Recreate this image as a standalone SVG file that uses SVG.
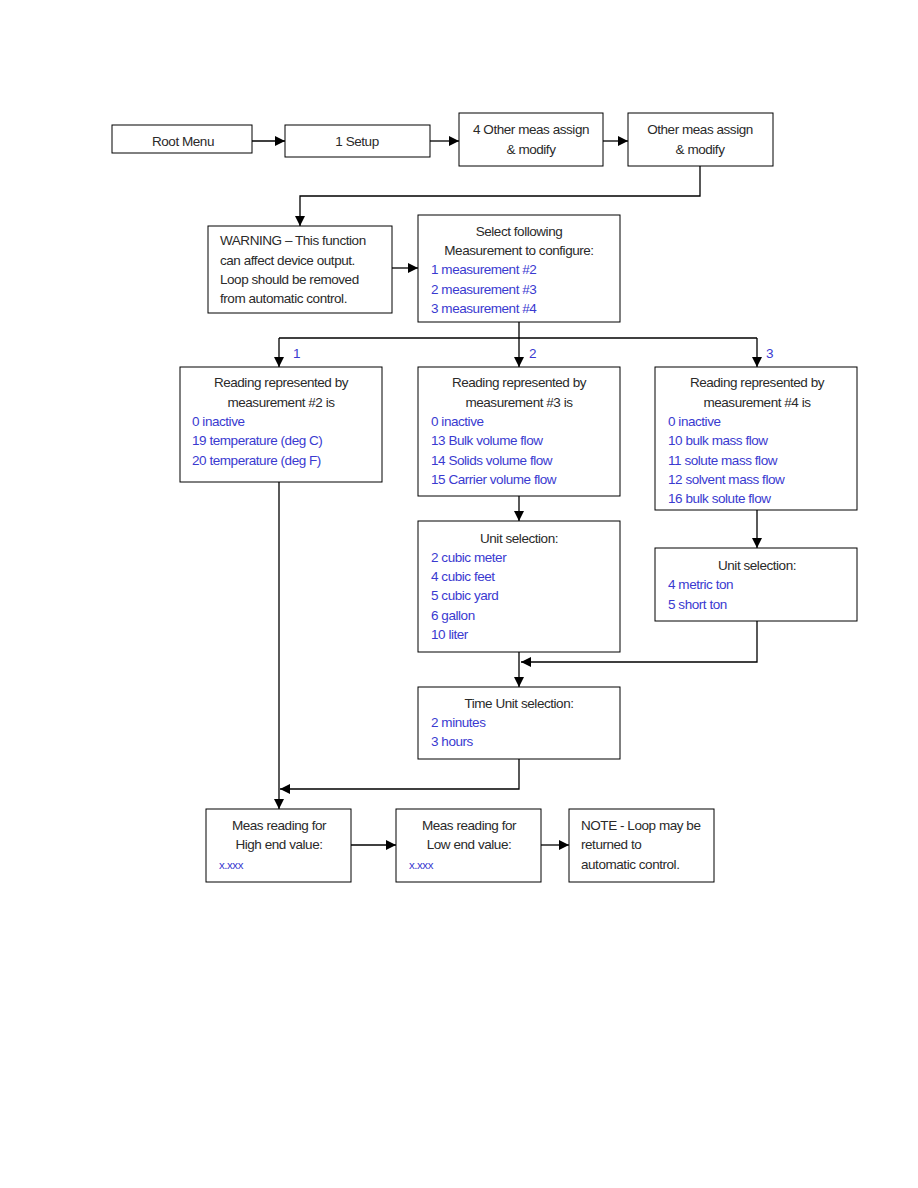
<svg xmlns="http://www.w3.org/2000/svg" width="918" height="1188" viewBox="0 0 918 1188">
<defs>
<marker id="ah" viewBox="0 0 10 10" refX="10" refY="5" markerWidth="10" markerHeight="10" markerUnits="userSpaceOnUse" orient="auto">
<path d="M0,0 L10,5 L0,10 z" fill="#000"/>
</marker>
<style>
rect{fill:#fff;stroke:#000;stroke-width:1}
text{font-family:"Liberation Sans",Arial,sans-serif;font-size:13.5px;letter-spacing:-0.45px;fill:#2a2a2a}
.c{text-anchor:middle}
.b{fill:#3a3ad0}
.s{font-size:11.5px}
#connectors path{fill:none;stroke:#000;stroke-width:1.3}
</style>
</defs>
<rect width="918" height="1188" style="fill:#fff;stroke:none"/>
<g id="connectors">
<path d="M252,141 H285" marker-end="url(#ah)"/>
<path d="M430,141 H459" marker-end="url(#ah)"/>
<path d="M603,141 H628" marker-end="url(#ah)"/>
<path d="M700,166 V196 H300 V226" marker-end="url(#ah)"/>
<path d="M392,268 H418" marker-end="url(#ah)"/>
<path d="M519,322 V367" marker-end="url(#ah)"/>
<path d="M279,338 H757"/>
<path d="M279,338 V367" marker-end="url(#ah)"/>
<path d="M757,338 V367" marker-end="url(#ah)"/>
<path d="M519,496 V521" marker-end="url(#ah)"/>
<path d="M757,510 V548" marker-end="url(#ah)"/>
<path d="M519,652 V687" marker-end="url(#ah)"/>
<path d="M757,621 V662 H521" marker-end="url(#ah)"/>
<path d="M519,759 V789 H280" marker-end="url(#ah)"/>
<path d="M279,482 V809" marker-end="url(#ah)"/>
<path d="M351,845 H396" marker-end="url(#ah)"/>
<path d="M541,845 H569" marker-end="url(#ah)"/>
<text x="293" y="358" class="b">1</text>
<text x="529" y="358" class="b">2</text>
<text x="766" y="358" class="b">3</text>
</g>
<g id="root"><rect x="112" y="125" width="140" height="28"/><text x="183" y="146" class="c">Root Menu</text></g>
<g id="setup"><rect x="285" y="125" width="145" height="32"/><text x="357" y="146" class="c">1 Setup</text></g>
<g id="other4"><rect x="459" y="113" width="144" height="53"/><text x="531" y="134" class="c">4 Other meas assign</text><text x="531" y="154" class="c">&amp; modify</text></g>
<g id="other"><rect x="628" y="113" width="145" height="53"/><text x="700" y="134" class="c">Other meas assign</text><text x="700" y="154" class="c">&amp; modify</text></g>
<g id="warning"><rect x="208" y="226" width="184" height="87"/>
<text x="220" y="245">WARNING – This function</text>
<text x="220" y="265">can affect device output.</text>
<text x="220" y="284">Loop should be removed</text>
<text x="220" y="303">from automatic control.</text></g>
<g id="select"><rect x="418" y="215" width="202" height="107"/>
<text x="519" y="236" class="c">Select following</text>
<text x="519" y="255" class="c">Measurement to configure:</text>
<text x="431" y="274" class="b">1 measurement #2</text>
<text x="431" y="294" class="b">2 measurement #3</text>
<text x="431" y="313" class="b">3 measurement #4</text></g>
<g id="reading2"><rect x="180" y="367" width="202" height="115"/>
<text x="281" y="387" class="c">Reading represented by</text>
<text x="281" y="407" class="c">measurement #2 is</text>
<text x="192" y="426" class="b">0 inactive</text>
<text x="192" y="445" class="b">19 temperature (deg C)</text>
<text x="192" y="465" class="b">20 temperature (deg F)</text></g>
<g id="reading3"><rect x="418" y="367" width="202" height="129"/>
<text x="519" y="387" class="c">Reading represented by</text>
<text x="519" y="407" class="c">measurement #3 is</text>
<text x="431" y="426" class="b">0 inactive</text>
<text x="431" y="445" class="b">13 Bulk volume flow</text>
<text x="431" y="465" class="b">14 Solids volume flow</text>
<text x="431" y="484" class="b">15 Carrier volume flow</text></g>
<g id="reading4"><rect x="655" y="367" width="202" height="143"/>
<text x="757" y="387" class="c">Reading represented by</text>
<text x="757" y="407" class="c">measurement #4 is</text>
<text x="668" y="426" class="b">0 inactive</text>
<text x="668" y="445" class="b">10 bulk mass flow</text>
<text x="668" y="465" class="b">11 solute mass flow</text>
<text x="668" y="484" class="b">12 solvent mass flow</text>
<text x="668" y="503" class="b">16 bulk solute flow</text></g>
<g id="unit3"><rect x="418" y="521" width="202" height="131"/>
<text x="519" y="543" class="c">Unit selection:</text>
<text x="431" y="562" class="b">2 cubic meter</text>
<text x="431" y="581" class="b">4 cubic feet</text>
<text x="431" y="600" class="b">5 cubic yard</text>
<text x="431" y="620" class="b">6 gallon</text>
<text x="431" y="639" class="b">10 liter</text></g>
<g id="unit4"><rect x="655" y="548" width="202" height="73"/>
<text x="757" y="570" class="c">Unit selection:</text>
<text x="668" y="589" class="b">4 metric ton</text>
<text x="668" y="609" class="b">5 short ton</text></g>
<g id="timeunit"><rect x="418" y="687" width="202" height="72"/>
<text x="519" y="708" class="c">Time Unit selection:</text>
<text x="431" y="727" class="b">2 minutes</text>
<text x="431" y="746" class="b">3 hours</text></g>
<g id="high"><rect x="206" y="809" width="145" height="73"/>
<text x="279" y="830" class="c">Meas reading for</text>
<text x="279" y="849" class="c">High end value:</text>
<text x="219" y="869" class="b s">x.xxx</text></g>
<g id="low"><rect x="396" y="809" width="145" height="73"/>
<text x="469" y="830" class="c">Meas reading for</text>
<text x="469" y="849" class="c">Low end value:</text>
<text x="409" y="869" class="b s">x.xxx</text></g>
<g id="note"><rect x="569" y="809" width="145" height="73"/>
<text x="581" y="830">NOTE - Loop may be</text>
<text x="581" y="849">returned to</text>
<text x="581" y="869">automatic control.</text></g>
</svg>
